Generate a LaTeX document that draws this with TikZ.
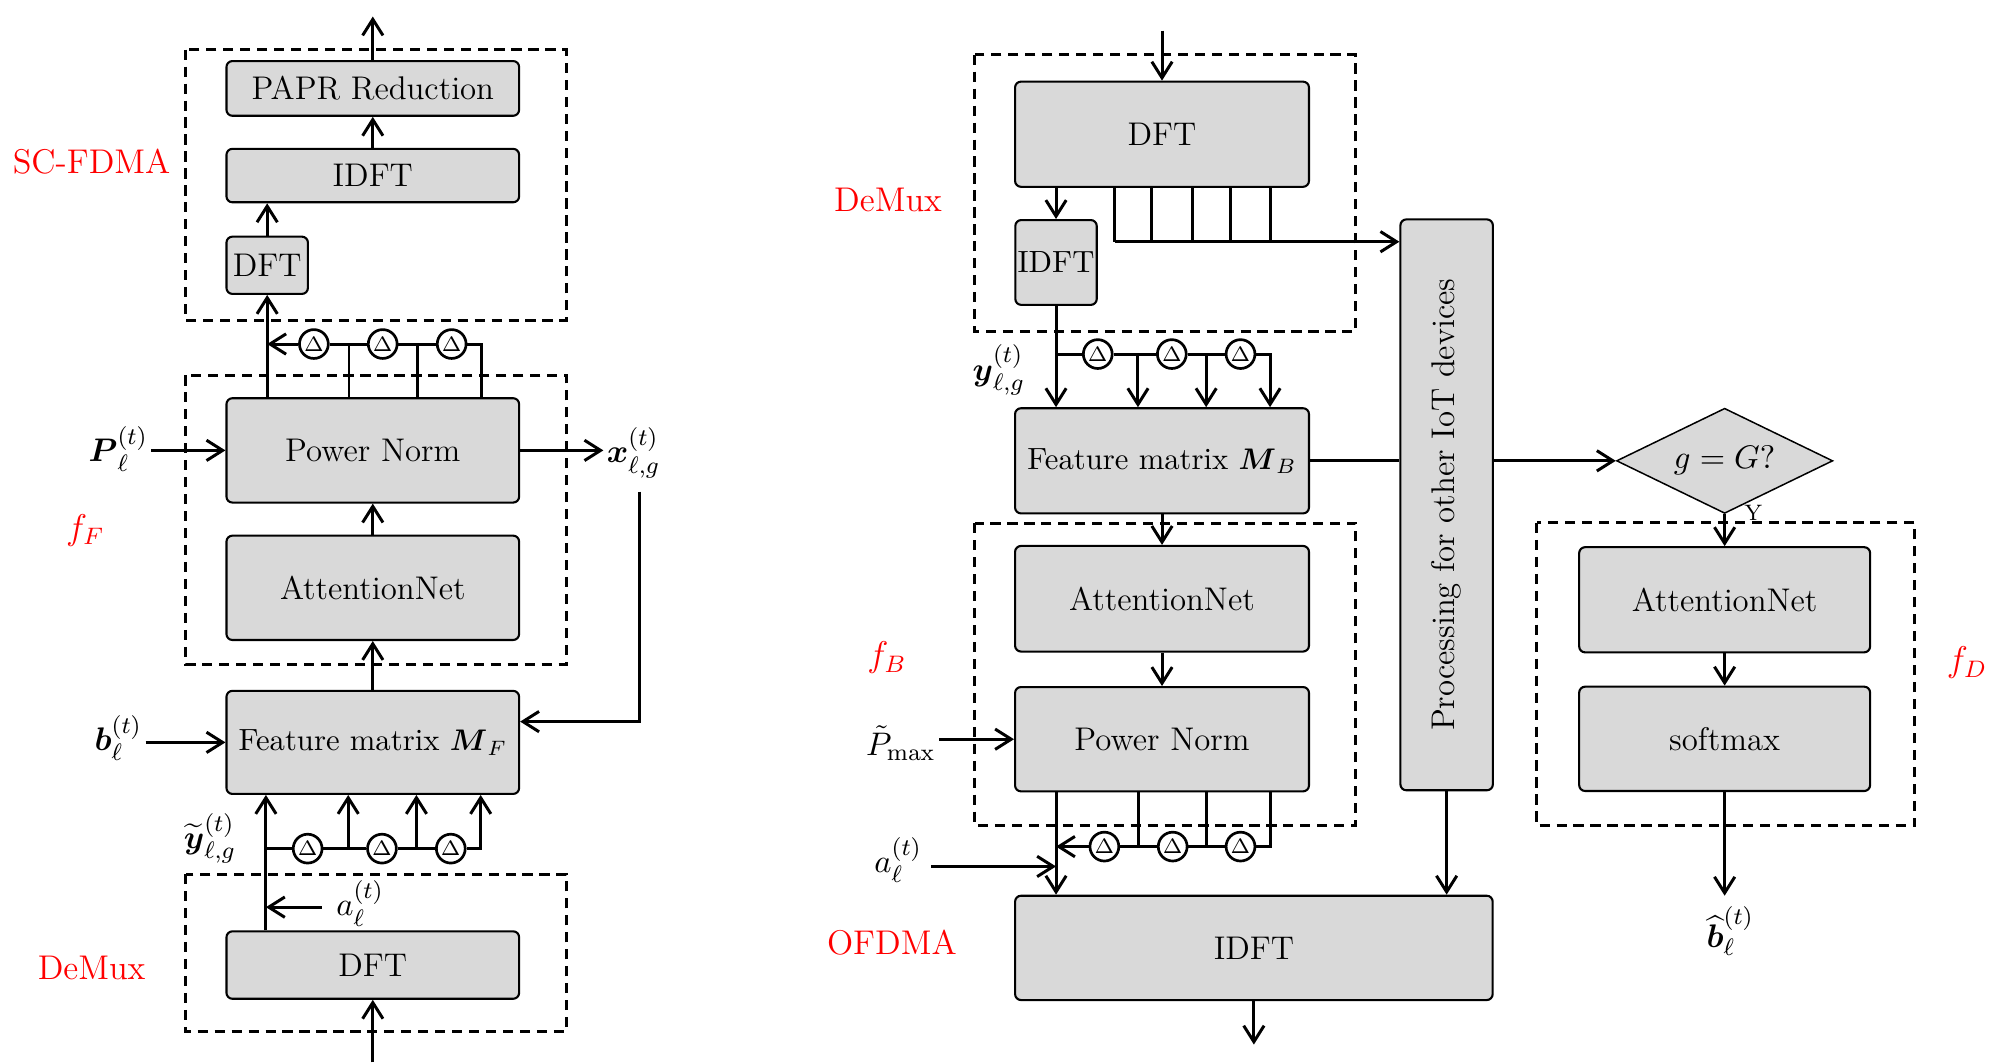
\documentclass[tikz,border=0pt]{standalone}
\usepackage{amsmath}
\usetikzlibrary{arrows.meta,shapes.geometric}
\definecolor{boxgray}{HTML}{D9D9D9}
\tikzset{
  blk/.style={draw, fill=boxgray, rounded corners=0.7mm, line width=0.7pt, inner sep=0pt, align=center},
  grp/.style={line width=1pt, dash pattern=on 1.2mm off 0.8mm},
  dly/.style={draw, circle, fill=white, line width=0.9pt, inner sep=0pt, minimum size=3.4mm, font=\fontsize{7.5}{8}\selectfont},
  tag/.style={text=red, font=\fontsize{11.5}{13}\selectfont},
  lbl/.style={inner sep=1pt},
  wire/.style={line width=1pt},
  narrow/.style={font=\fontsize{10.3}{12}\selectfont},
}
\begin{document}
\begin{tikzpicture}[x=0.15mm, y=-0.15mm, >={Straight Barb[length=1.9mm,width=2.4mm]}, font=\fontsize{11}{13}\selectfont]
\useasboundingbox (0,0) rectangle (1568,835);

% transmitter side
\draw[grp] (146,39) rectangle (445,252);
\draw[grp] (146,295) rectangle (445,522);
\draw[grp] (146,687) rectangle (445,811);

\node[blk, minimum width=34.5mm, minimum height=6.45mm] (papr) at (293,69.5) {PAPR Reduction};
\node[blk, minimum width=34.5mm, minimum height=6.3mm] (idftL) at (293,138) {IDFT};
\node[blk, minimum width=9.6mm, minimum height=6.75mm] (dftS) at (210,208.5) {DFT};
\node[blk, minimum width=34.5mm, minimum height=12.3mm] (pnF) at (293,354) {Power Norm};
\node[blk, minimum width=34.5mm, minimum height=12.3mm] (attF) at (293,462) {AttentionNet};
\node[blk, narrow, minimum width=34.5mm, minimum height=12.15mm] (mF) at (293,583.5) {Feature matrix $\boldsymbol{M}_F$};
\node[blk, minimum width=34.5mm, minimum height=7.95mm] (dftL) at (293,758.5) {DFT};

\node[tag] (lblSC) at (72,127) {SC-FDMA};
\node[tag] (lblfF) at (67,417) {$f_F$};
\node[tag] (lblDL) at (72,761) {DeMux};

\node[lbl] (inP) at (93,353) {$\boldsymbol{P}_\ell^{(t)}$};
\node[lbl] (inb) at (93,580) {$\boldsymbol{b}_\ell^{(t)}$};
\node[lbl] (outx) at (498,356) {$\boldsymbol{x}_{\ell,g}^{(t)}$};
\node[lbl] (iny) at (165,659) {$\widetilde{\boldsymbol{y}}_{\ell,g}^{(t)}$};
\node[lbl] (ina) at (283,710) {$a_\ell^{(t)}$};

\coordinate (outTop) at (293,13);
\coordinate (inBot) at (293,835);
\coordinate (fbTop) at (502.5,386.5);
\coordinate (aL) at (253,713);

\draw[wire,->] (papr.north) -- (outTop);
\draw[wire,->] (idftL.north) -- (papr.south);
\draw[wire,->] (dftS.north) -- (dftS.north |- idftL.south);
\draw[wire,->] (dftS.south |- pnF.north) -- (dftS.south);
\draw[wire,->] (attF.north) -- (pnF.south);
\draw[wire,->] (mF.north) -- (attF.south);
\draw[wire,->] (inP.east |- pnF.west) -- (pnF.west);
\draw[wire,->] (inb.east |- mF.west) -- (mF.west);
\draw[wire,->] (pnF.east) -- (pnF.east -| outx.west);
\draw[wire,->] (fbTop) |- ([yshift=2.45mm]mF.east);
\draw[wire,->] (inBot) -- (dftL.south);

% delays above Power Norm
\node[dly] (dU1) at (246.7,270.4) {$\Delta$};
\node[dly] (dU2) at (300.8,270.4) {$\Delta$};
\node[dly] (dU3) at (355,270.4) {$\Delta$};
\coordinate (jU1) at (274.3,270.4);
\coordinate (jU2) at (327.9,270.4);
\coordinate (jU3) at (378.1,270.4);
\draw[wire,->] (dU1) -- (dU1 -| dftS);
\draw[wire] (dU1) -- (dU2);
\draw[wire] (dU2) -- (dU3);
\draw[wire] (dU3) -| (jU3 |- pnF.north);
\draw[wire] (jU1) -- (jU1 |- pnF.north);
\draw[wire] (jU2) -- (jU2 |- pnF.north);

% delays below Feature matrix
\node[dly] (dL1) at (241.8,667) {$\Delta$};
\node[dly] (dL2) at (300.2,667) {$\Delta$};
\node[dly] (dL3) at (354.3,667) {$\Delta$};
\coordinate (jL0) at (209,667);
\coordinate (jL1) at (273.7,667);
\coordinate (jL2) at (327.3,667);
\coordinate (jL3) at (377.8,667);
\draw[wire,->] (jL0 |- dftL.north) -- (jL0 |- mF.south);
\draw[wire] (jL0) -- (dL1);
\draw[wire] (dL1) -- (dL2);
\draw[wire] (dL2) -- (dL3);
\draw[wire,->] (dL3) -| (jL3 |- mF.south);
\draw[wire,->] (jL1) -- (jL1 |- mF.south);
\draw[wire,->] (jL2) -- (jL2 |- mF.south);
\draw[wire,->] (aL) -- (aL -| jL0);

% receiver side
\draw[grp] (766,43) rectangle (1065.5,260.7);
\draw[grp] (766,411.3) rectangle (1065.5,648.7);
\draw[grp] (1208,411) rectangle (1505,649);

\node[blk, minimum width=34.65mm, minimum height=12.4mm] (dftR) at (913.3,105.5) {DFT};
\node[blk, narrow, minimum width=9.6mm, minimum height=10mm] (idftS) at (830,206.3) {IDFT};
\node[blk, narrow, minimum width=34.65mm, minimum height=12.4mm] (mB) at (913.3,362.2) {Feature matrix $\boldsymbol{M}_B$};
\node[blk, minimum width=34.65mm, minimum height=12.45mm] (attB) at (913.3,470.6) {AttentionNet};
\node[blk, minimum width=34.65mm, minimum height=12.3mm] (pnB) at (913.3,581) {Power Norm};
\node[blk, minimum width=56.3mm, minimum height=12.3mm] (idftR) at (985.5,745) {IDFT};
\node[blk, minimum width=10.9mm, minimum height=67.3mm] (proc) at (1137,396.8) {\rotatebox{90}{Processing for other IoT devices}};
\node[draw, diamond, fill=boxgray, line width=0.5pt, aspect=2, inner sep=0pt, minimum width=25.5mm, minimum height=12.4mm] (dec) at (1355.5,362.2) {$g=G?$};
\node[blk, minimum width=34.3mm, minimum height=12.4mm] (attD) at (1355.5,471.4) {AttentionNet};
\node[blk, minimum width=34.3mm, minimum height=12.3mm] (smax) at (1355.5,580.7) {softmax};

\node[tag] (lblDR) at (698,157) {DeMux};
\node[tag] (lblfB) at (697,517) {$f_B$};
\node[tag] (lblOF) at (701,741) {OFDMA};
\node[tag] (lblfD) at (1546,521) {$f_D$};

\node[lbl] (iny2) at (785,291) {$\boldsymbol{y}_{\ell,g}^{(t)}$};
\node[lbl] (inPm) at (708,584) {$\tilde{P}_{\max}$};
\node[lbl] (ina2) at (706,676) {$a_\ell^{(t)}$};
\node[lbl] (outb) at (1360,732) {$\widehat{\boldsymbol{b}}_\ell^{(t)}$};
\node[lbl, font=\fontsize{7.5}{9}\selectfont] (yes) at (1378,403) {Y};

\coordinate (inTop) at (913.3,24);
\coordinate (outBot) at (985.5,821);
\coordinate (bTip) at (1355.5,704);
\coordinate (aR) at (732,681);

\draw[wire,->] (inTop) -- (dftR.north);
\draw[wire,->] (idftS.north |- dftR.south) -- (idftS.north);
\foreach \cx [count=\i] in {876,905.2,937.5,967.3,998.2} {
  \coordinate (cb\i) at (\cx,190);
  \draw[wire] (cb\i |- dftR.south) -- (cb\i);
}
\draw[wire,->] (cb1) -- (cb1 -| proc.west);
\draw[wire] (mB.east) -- (mB.east -| proc.west);
\draw[wire,->] (proc.east |- mB.east) -- (dec.west);
\draw[wire,->] (mB.south) -- (attB.north);
\draw[wire,->] (attB.south) -- (pnB.north);
\draw[wire,->] (inPm.east |- pnB.west) -- (pnB.west);
\draw[wire,->] (proc.south) -- (proc.south |- idftR.north);
\draw[wire,->] (idftR.south) -- (outBot);
\draw[wire,->] (dec.south) -- (attD.north);
\draw[wire,->] (attD.south) -- (smax.north);
\draw[wire,->] (smax.south) -- (bTip);

% delays above Feature matrix M_B
\node[dly] (dR1) at (862.8,278.3) {$\Delta$};
\node[dly] (dR2) at (921,278.3) {$\Delta$};
\node[dly] (dR3) at (975,278.3) {$\Delta$};
\coordinate (jR0) at (830,278.3);
\coordinate (jR1) at (894.4,278.3);
\coordinate (jR2) at (948,278.3);
\coordinate (jR3) at (998.2,278.3);
\draw[wire,->] (idftS.south) -- (idftS.south |- mB.north);
\draw[wire] (jR0) -- (dR1);
\draw[wire] (dR1) -- (dR2);
\draw[wire] (dR2) -- (dR3);
\draw[wire,->] (dR3) -| (jR3 |- mB.north);
\draw[wire,->] (jR1) -- (jR1 |- mB.north);
\draw[wire,->] (jR2) -- (jR2 |- mB.north);

% delays below Power Norm
\node[dly] (eR1) at (868,665.4) {$\Delta$};
\node[dly] (eR2) at (921.7,665.4) {$\Delta$};
\node[dly] (eR3) at (975,665.4) {$\Delta$};
\coordinate (kR0) at (830,665.4);
\coordinate (kR1) at (894.8,665.4);
\coordinate (kR2) at (948.1,665.4);
\coordinate (kR3) at (998.2,665.4);
\draw[wire,->] (kR0 |- pnB.south) -- (kR0 |- idftR.north);
\draw[wire,->] (eR1) -- (kR0);
\draw[wire] (eR1) -- (eR2);
\draw[wire] (eR2) -- (eR3);
\draw[wire] (eR3) -| (kR3 |- pnB.south);
\draw[wire] (kR1 |- pnB.south) -- (kR1);
\draw[wire] (kR2 |- pnB.south) -- (kR2);
\draw[wire,->] (aR) -- (aR -| kR0);
\end{tikzpicture}
\end{document}
